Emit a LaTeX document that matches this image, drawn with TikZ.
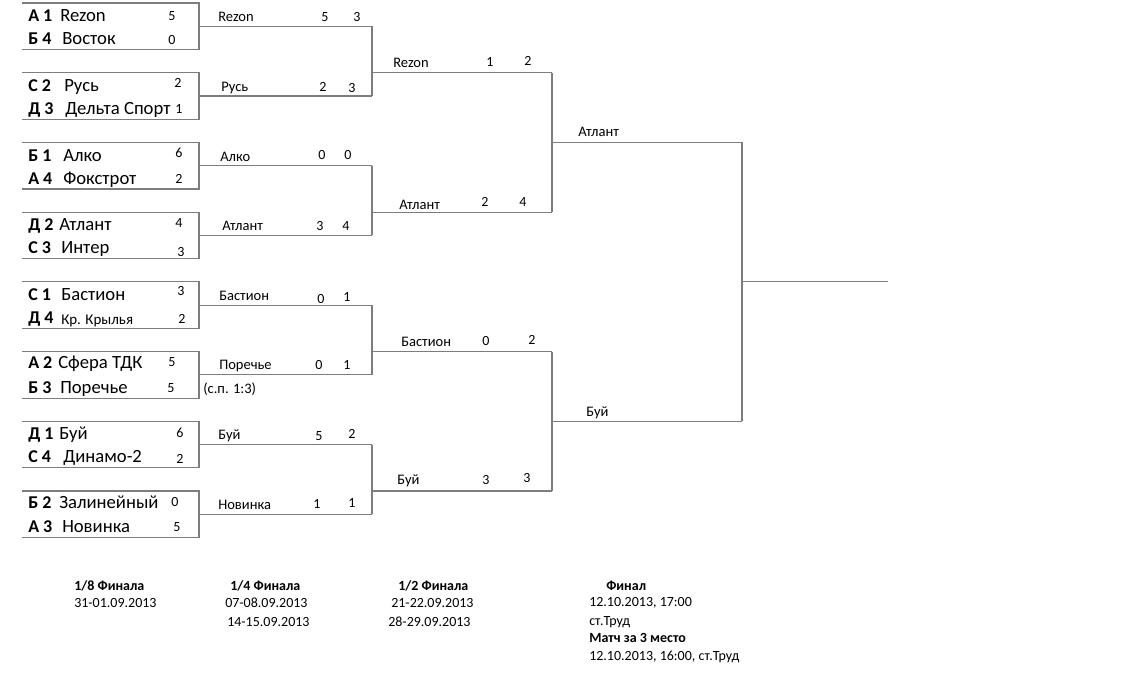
\documentclass[tikz,border=0pt]{standalone}
\usepackage{fontspec}
\setmainfont{Carlito}
\definecolor{lncol}{RGB}{125,125,125}
\tikzset{
  ln/.style={draw=lncol, line width=0.9pt},
  nm/.style={anchor=base west, inner sep=0pt, font=\fontsize{14pt}{16pt}\selectfont},
  nms/.style={anchor=base west, inner sep=0pt, font=\fontsize{11.2pt}{13pt}\selectfont},
  cd/.style={anchor=base west, inner sep=0pt, font=\fontsize{13.5pt}{16pt}\selectfont\bfseries},
  sc/.style={anchor=base west, inner sep=0pt, font=\fontsize{10.5pt}{12pt}\selectfont},
  lb/.style={anchor=base west, inner sep=0pt, font=\fontsize{10.9pt}{12pt}\selectfont},
  bt/.style={anchor=base west, inner sep=0pt, font=\fontsize{10.5pt}{12pt}\selectfont},
  btb/.style={anchor=base west, inner sep=0pt, font=\fontsize{10.5pt}{12pt}\selectfont\bfseries},
}
\begin{document}
\begin{tikzpicture}[x=0.75pt,y=-0.75pt]
\useasboundingbox (0,0) rectangle (1132,679);
% first round brackets
\foreach \i in {0,...,7}{
  \pgfmathsetmacro\t{3+69.7*\i}
  \pgfmathsetmacro\b{\t+46.6}
  \pgfmathsetmacro\m{\t+23.3}
  \coordinate (b\i tl) at (22,\t);
  \coordinate (b\i tr) at (199,\t);
  \coordinate (b\i br) at (199,\b);
  \coordinate (b\i bl) at (22,\b);
  \coordinate (b\i m) at (199,\m);
  \coordinate (q\i) at (372,\m);
  \draw[ln] (b\i tl) -- (b\i tr) -- (b\i br) -- (b\i bl);
  \draw[ln] (b\i m) -- (q\i);
}
% quarterfinal joins
\foreach \j in {0,...,3}{
  \pgfmathtruncatemacro\a{2*\j}
  \pgfmathtruncatemacro\c{2*\j+1}
  \pgfmathsetmacro\y{3+69.7*\c}
  \coordinate (s\j) at (372,\y);
  \coordinate (s\j e) at (552,\y);
  \draw[ln] (q\a) -- (q\c);
  \draw[ln] (s\j) -- (s\j e);
}
% semifinal joins
\foreach \k in {0,1}{
  \pgfmathtruncatemacro\a{2*\k}
  \pgfmathtruncatemacro\c{2*\k+1}
  \pgfmathsetmacro\y{3+69.7*(4*\k+2)}
  \coordinate (f\k) at (552,\y);
  \coordinate (f\k e) at (742,\y);
  \draw[ln] (s\a e) -- (s\c e);
  \draw[ln] (f\k) -- (f\k e);
}
\coordinate (fin) at (742,281.8);
\coordinate (fine) at (888,281.8);
\draw[ln] (f0e) -- (f1e);
\draw[ln] (fin) -- (fine);

% first round texts
\node[cd] (c1) at (28,21.6) {А 1}; \node[nm] (n1) at (60,21.6) {Rezon}; \node[sc] (p1) at (168,20.4) {5};
\node[cd] (c2) at (28,44.6) {Б 4}; \node[nm] (n2) at (62,44.6) {Восток}; \node[sc] (p2) at (168,44.4) {0};
\node[cd] (c3) at (28,91.3) {С 2}; \node[nm] (n3) at (64,91.3) {Русь}; \node[sc] (p3) at (174,87.4) {2};
\node[cd] (c4) at (28,114.3) {Д 3}; \node[nm] (n4) at (65,114.3) {Дельта Спорт}; \node[sc] (p4) at (175,113.4) {1};
\node[cd] (c5) at (28,161) {Б 1}; \node[nm] (n5) at (63,161) {Алко}; \node[sc] (p5) at (175,157.4) {6};
\node[cd] (c6) at (28,184) {А 4}; \node[nm] (n6) at (63,184) {Фокстрот}; \node[sc] (p6) at (175,183.4) {2};
\node[cd] (c7) at (28,230.7) {Д 2}; \node[nm] (n7) at (59,230.7) {Атлант}; \node[sc] (p7) at (175,227) {4};
\node[cd] (c8) at (28,253.7) {С 3}; \node[nm] (n8) at (61,253.7) {Интер}; \node[sc] (p8) at (177,256.4) {3};
\node[cd] (c9) at (28,300.4) {С 1}; \node[nm] (n9) at (61,300.4) {Бастион}; \node[sc] (p9) at (177,295.4) {3};
\node[cd] (c10) at (28,323.4) {Д 4}; \node[nms] (n10) at (61,324.4) {Кр. Крылья}; \node[sc] (p10) at (178,323.4) {2};
\node[cd] (c11) at (28,368.6) {А 2}; \node[nm] (n11) at (58,368.6) {Сфера ТДК}; \node[sc] (p11) at (168,366.4) {5};
\node[cd] (c12) at (28,393.1) {Б 3}; \node[nm] (n12) at (60,393.1) {Поречье}; \node[sc] (p12) at (167,392.4) {5};
\node[lb] (sp) at (203,393.4) {(с.п. 1:3)};
\node[cd] (c13) at (28,439.8) {Д 1}; \node[nm] (n13) at (59,439.8) {Буй}; \node[sc] (p13) at (176,437.4) {6};
\node[cd] (c14) at (28,462.8) {С 4}; \node[nm] (n14) at (63,462.8) {Динамо-2}; \node[sc] (p14) at (176,463.4) {2};
\node[cd] (c15) at (28,508.5) {Б 2}; \node[nm] (n15) at (59,508.5) {Залинейный}; \node[sc] (p15) at (171,506.4) {0};
\node[cd] (c16) at (28,532.5) {А 3}; \node[nm] (n16) at (62,532.5) {Новинка}; \node[sc] (p16) at (173,531.4) {5};

% quarterfinal labels
\node[lb] (r1) at (218,21.2) {Rezon}; \node[sc] (r1a) at (321,21.2) {5}; \node[sc] (r1b) at (353,21.8) {3};
\node[lb] (r2) at (221,91.5) {Русь}; \node[sc] (r2a) at (319,91.5) {2}; \node[sc] (r2b) at (348,92.5) {3};
\node[lb] (r3) at (220,161.5) {Алко}; \node[sc] (r3a) at (318,159.5) {0}; \node[sc] (r3b) at (344,159.5) {0};
\node[lb] (r4) at (222,230.5) {Атлант}; \node[sc] (r4a) at (316,230.5) {3}; \node[sc] (r4b) at (342,230.5) {4};
\node[lb] (r5) at (219,300.5) {Бастион}; \node[sc] (r5a) at (317,303.5) {0}; \node[sc] (r5b) at (343,301.5) {1};
\node[lb] (r6) at (219,369.5) {Поречье}; \node[sc] (r6a) at (315,369.5) {0}; \node[sc] (r6b) at (343,369.5) {1};
\node[lb] (r7) at (218,439.5) {Буй}; \node[sc] (r7a) at (315,440.5) {5}; \node[sc] (r7b) at (348,438.5) {2};
\node[lb] (r8) at (218,509.5) {Новинка}; \node[sc] (r8a) at (313,508.5) {1}; \node[sc] (r8b) at (348,507.5) {1};

% semifinal labels
\node[lb] (t1) at (393,67.5) {Rezon}; \node[sc] (t1a) at (486,66.5) {1}; \node[sc] (t1b) at (524,65.5) {2};
\node[lb] (t2) at (399,209.5) {Атлант}; \node[sc] (t2a) at (481,206.5) {2}; \node[sc] (t2b) at (519,206.5) {4};
\node[lb] (t3) at (401,346.5) {Бастион}; \node[sc] (t3a) at (482,345.5) {0}; \node[sc] (t3b) at (528,344.5) {2};
\node[lb] (t4) at (397,484.5) {Буй}; \node[sc] (t4a) at (482,484.5) {3}; \node[sc] (t4b) at (523,482.5) {3};

% finalists
\node[lb] (u1) at (578,136.5) {Атлант};
\node[lb] (u2) at (586,416.5) {Буй};

% schedule
\node[btb] (h1) at (74,590.5) {1/8 Финала};
\node[bt] (d1) at (74,607.5) {31-01.09.2013};
\node[btb] (h2) at (230,590.5) {1/4 Финала};
\node[bt] (d2) at (225,607.5) {07-08.09.2013};
\node[bt] (d3) at (227,626.5) {14-15.09.2013};
\node[btb] (h3) at (398,590.5) {1/2 Финала};
\node[bt] (d4) at (391,607.5) {21-22.09.2013};
\node[bt] (d5) at (388,626.5) {28-29.09.2013};
\node[btb] (h4) at (606,590.5) {Финал};
\node[bt] (d6) at (589,606.5) {12.10.2013, 17:00};
\node[bt] (d7) at (589,625) {ст.Труд};
\node[btb] (h5) at (589,642.5) {Матч за 3 место};
\node[bt] (d8) at (589,660) {12.10.2013, 16:00, ст.Труд};
\end{tikzpicture}
\end{document}
